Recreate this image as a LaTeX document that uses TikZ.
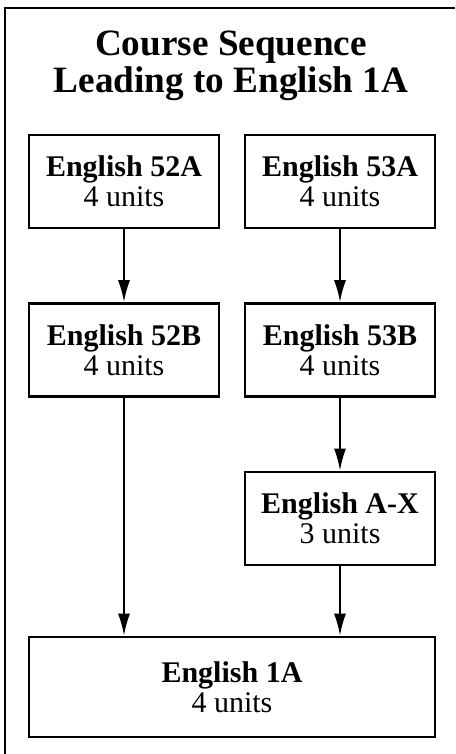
\documentclass[tikz,border=0pt]{standalone}
\usepackage{fontspec}
\setmainfont{Liberation Serif}
\usetikzlibrary{arrows.meta}

\begin{document}
\begin{tikzpicture}[x=0.5pt, y=-0.5pt, node distance=84.25pt, line width=1pt, >={Latex[length=11pt,width=6pt]}]
        \tikzstyle{course} = [rectangle, draw=black, line width=1.3pt, text centered, align=center,
                             inner sep=0pt, minimum width=95pt, minimum height=46.5pt,
                             font=\fontsize{15}{15}\selectfont]
        \tikzstyle{target} = [course, minimum width=203pt, minimum height=50pt]

        \useasboundingbox (0,0) rectangle (455,754);

        % Cadre et titre
        \draw[line width=1.3pt] (455,8) -- (5,8) -- (5,754);
        \node[align=center, font=\bfseries\fontsize{18.6}{18.5}\selectfont] (title) at (231,66)
            {Course Sequence\\Leading to English 1A};

        % Cours
        \node[course] (eng52a) at (124,181.5) {\textbf{English 52A}\\4 units};
        \node[course] (eng53a) at (340,181.5) {\textbf{English 53A}\\4 units};
        \node[course, below of = eng52a] (eng52b) {\textbf{English 52B}\\4 units};
        \node[course, below of = eng53a] (eng53b) {\textbf{English 53B}\\4 units};
        \node[course, below of = eng53b] (engax) {\textbf{English A-X}\\3 units};
        \node[target, below of = engax, xshift=-54pt] (eng1a) {\textbf{English 1A}\\4 units};

        % Flèches
        \draw[->] (eng52a) -- (eng52b);
        \draw[->] (eng53a) -- (eng53b);
        \draw[->] (eng53b) -- (engax);
        \draw[->] (eng52b) -- (eng52b |- eng1a.north);
        \draw[->] (engax) -- (engax |- eng1a.north);
\end{tikzpicture}
\end{document}
